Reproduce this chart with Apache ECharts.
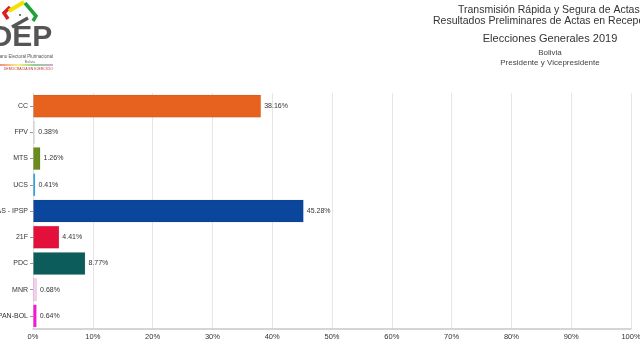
<!DOCTYPE html>
<html><head><meta charset="utf-8">
<script src="https://cdn.jsdelivr.net/npm/echarts@6/dist/echarts.min.js"></script>
<style>html,body{margin:0;padding:0;background:#fff}#c{width:640px;height:357px}</style>
</head><body><div id="c"></div>
<script>
const categories = ['CC','FPV','MTS','UCS','MAS - IPSP','21F','PDC','MNR','PAN-BOL'];
const values = [38.16,0.38,1.26,0.41,45.28,4.41,8.77,0.68,0.64];
const colors = ['#E8621F','#EEEEEE','#6B8B1E','#1CA8EA','#0A479C','#E2103A','#0D5C5C','#F9CCF3','#FF12DA'];
const xTicks = [0,10,20,30,40,50,60,70,80,90,100];

const chart = echarts.init(document.getElementById('c'));
const F = 'Liberation Sans, Arial, sans-serif';
chart.setOption({
  animation:false,
  textStyle:{fontFamily:F},
  grid:{left:33,right:9,top:93,bottom:28,containLabel:false,outerBoundsMode:'none'},
  xAxis:{type:'value',min:xTicks[0],max:xTicks[xTicks.length-1],interval:10,
    axisLine:{show:true,lineStyle:{color:'#c8c8c8',width:1.5}},
    axisTick:{show:false},
    axisLabel:{formatter:'{value}%',fontSize:7.5,color:'#333',margin:4,fontFamily:F},
    splitLine:{show:true,lineStyle:{color:'#e6e6e6',width:1}}},
  yAxis:{type:'category',inverse:true,data:categories,
    axisLine:{show:true,lineStyle:{color:'#e0e0e0'}},
    axisTick:{show:true,alignWithLabel:true,length:3,lineStyle:{color:'#999'}},
    axisLabel:{fontSize:7,color:'#333',margin:5,fontFamily:F}},
  series:[{type:'bar',barCategoryGap:'12%',
    data:values.map((v,i)=>({value:v,itemStyle:{color:colors[i]}})),
    itemStyle:{borderColor:'rgba(0,0,0,0.08)',borderWidth:1},
    label:{show:true,position:'right',distance:3,fontSize:7,color:'#333',fontFamily:F,
      formatter:p=>p.value.toFixed(2)+'%'}}],
  graphic:[
    {type:'text',left:458,top:5,style:{text:'Transmisión Rápida y Segura de Actas',font:'10.5px '+F,fill:'#333'}},
    {type:'text',left:433,top:16,style:{text:'Resultados Preliminares de Actas en Recepción',font:'10.5px '+F,fill:'#333'}},
    {type:'text',x:550,y:39,style:{text:'Elecciones Generales 2019',font:'11px '+F,fill:'#333',align:'center',verticalAlign:'middle'}},
    {type:'text',x:550,y:53,style:{text:'Bolivia',font:'8px '+F,fill:'#444',align:'center',verticalAlign:'middle'}},
    {type:'text',x:550,y:63,style:{text:'Presidente y Vicepresidente',font:'8px '+F,fill:'#444',align:'center',verticalAlign:'middle'}},
    // logo
    {type:'polyline',shape:{points:[[10,7],[4,13],[8,19]]},style:{stroke:'#E01B22',lineWidth:3.5,fill:null}},
    {type:'polyline',shape:{points:[[9,11],[24,2]]},style:{stroke:'#F5E100',lineWidth:4,fill:null}},
    {type:'polyline',shape:{points:[[25,3],[36,16],[33,21]]},style:{stroke:'#1DA23A',lineWidth:3.5,fill:null}},
    {type:'polyline',shape:{points:[[12,27],[28,18]]},style:{stroke:'#555',lineWidth:3.5,fill:null}},
    {type:'rect',shape:{x:19,y:14,width:2,height:2},style:{fill:'#777'}},
    {type:'text',x:-11,y:53,style:{text:'OEP',font:'bold 30px '+F,fill:'#555',verticalAlign:'bottom'}},
    {type:'text',x:53,y:57,style:{text:'Órgano Electoral Plurinacional',font:'4.5px '+F,fill:'#555',align:'right',verticalAlign:'middle'}},
    {type:'text',x:30,y:62,style:{text:'Bolivia',font:'3.5px '+F,fill:'#777',align:'center',verticalAlign:'middle'}},
    {type:'rect',shape:{x:0,y:64.5,width:53,height:1},style:{fill:new echarts.graphic.LinearGradient(0,0,1,0,[{offset:0,color:'#E01B22'},{offset:0.33,color:'#F5E100'},{offset:0.66,color:'#1DA23A'},{offset:1,color:'#9b59b6'}])}},
    {type:'text',x:53,y:69,style:{text:'DEMOCRACIA EN EJERCICIO',font:'3.5px '+F,fill:'#C0392B',align:'right',verticalAlign:'middle'}}
  ]
});
</script></body></html>
